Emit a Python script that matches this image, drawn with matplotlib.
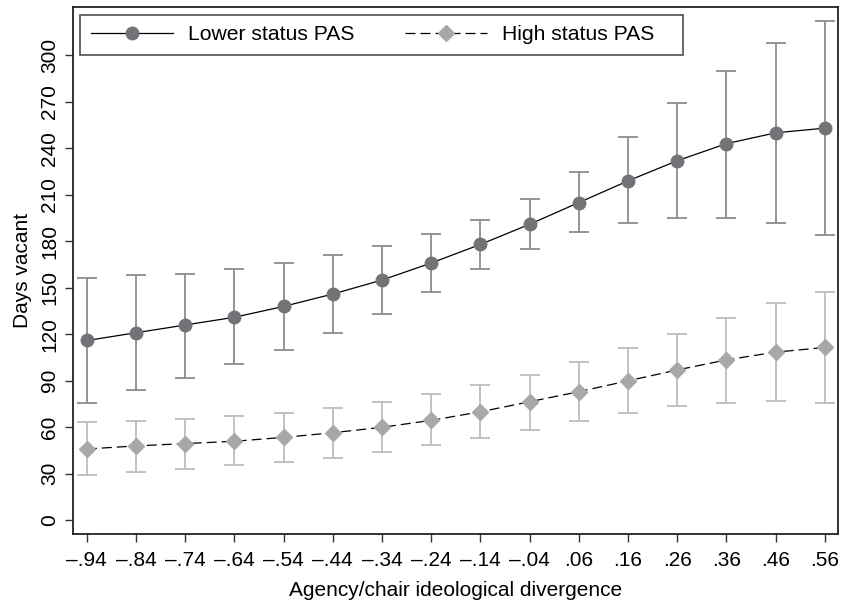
import matplotlib
matplotlib.use("Agg")
import matplotlib.pyplot as plt

plt.rcParams['font.family'] = ['Liberation Sans', 'DejaVu Sans']

# divergence values on the x axis
divergence = [-0.94, -0.84, -0.74, -0.64, -0.54, -0.44, -0.34, -0.24,
              -0.14, -0.04, 0.06, 0.16, 0.26, 0.36, 0.46, 0.56]
tick_labels = ['\u2013.94', '\u2013.84', '\u2013.74', '\u2013.64', '\u2013.54',
               '\u2013.44', '\u2013.34', '\u2013.24', '\u2013.14', '\u2013.04',
               '.06', '.16', '.26', '.36', '.46', '.56']

# lower status PAS
low_mean = [116, 121, 126, 131, 138, 146, 155, 166, 178, 191, 205, 219, 232, 243, 250, 253]
low_lo = [76, 84, 92, 101, 110, 121, 133, 147, 162, 175, 186, 192, 195, 195, 192, 184]
low_hi = [156, 158, 159, 162, 166, 171, 177, 185, 194, 207, 225, 247, 269, 290, 308, 322]

# high status PAS
high_mean = [46, 48, 49.5, 51, 53.5, 56.5, 60, 64.5, 70, 76.5, 83, 90, 97, 103.5, 108.5, 111.5]
high_lo = [29, 31, 33, 35.5, 37.5, 40.5, 44, 48.5, 53, 58.5, 64, 69.5, 73.5, 76, 77, 75.5]
high_hi = [63.5, 64, 65.5, 67, 69, 72.5, 76.5, 81.5, 87, 94, 102, 111, 120.5, 130.5, 140, 147.5]

fig = plt.figure(figsize=(8.47, 6.03), dpi=100)
ax = fig.add_axes([0.086, 0.114, 0.903, 0.874])

low_err = [[m - l for m, l in zip(low_mean, low_lo)], [h - m for m, h in zip(low_mean, low_hi)]]
high_err = [[m - l for m, l in zip(high_mean, high_lo)], [h - m for m, h in zip(high_mean, high_hi)]]

ax.errorbar(divergence, low_mean, yerr=low_err, fmt='none', ecolor='#8c8c8c',
            elinewidth=1.3, capsize=7, capthick=1.3, zorder=2)
ax.errorbar(divergence, high_mean, yerr=high_err, fmt='none', ecolor='#bdbdbd',
            elinewidth=1.3, capsize=7, capthick=1.3, zorder=2)

ax.plot(divergence, low_mean, color='black', lw=0.9, marker='o', ms=9,
        mfc='#727277', mec='#727277', zorder=3, label='Lower status PAS')
# trailing spaces: Stata gives both legend columns the same width
ax.plot(divergence, high_mean, color='black', lw=0.9, ls=(0, (8, 4)), marker='D', ms=8.5,
        mfc='#a8a8a8', mec='#a8a8a8', zorder=3, label='High status PAS   ')

ax.set_xlim(-0.9685, 0.586)
ax.set_ylim(-9, 331)
ax.set_xticks(divergence)
ax.set_xticklabels(tick_labels, fontsize=15)
ax.set_yticks(range(0, 301, 30))
ax.set_yticklabels([str(v) for v in range(0, 301, 30)], fontsize=15, rotation=90, va='center')
ax.tick_params(direction='out', length=6, width=1, color='#333333')
ax.tick_params(axis='x', pad=6)
ax.tick_params(axis='y', pad=4)
for s in ax.spines.values():
    s.set_linewidth(1.3)
    s.set_color('#222222')

ax.set_xlabel('Agency/chair ideological divergence', fontsize=15, labelpad=8)
ax.set_ylabel('Days vacant', fontsize=15, labelpad=6)

leg = ax.legend(loc='upper left', ncol=2, fontsize=15.2, frameon=True, fancybox=False,
                handlelength=3.9, handletextpad=0.7, columnspacing=2.4,
                borderaxespad=0.35, borderpad=0.5, edgecolor='#222222')
leg.get_frame().set_linewidth(1.2)

fig.savefig('out.png', dpi=100)
